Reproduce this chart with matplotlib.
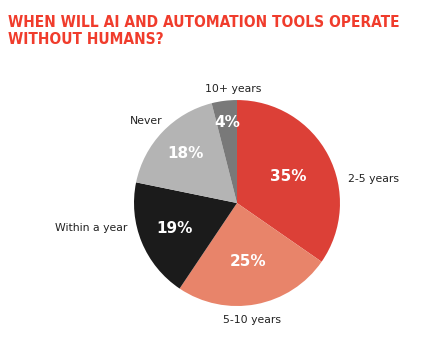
import math
import matplotlib
matplotlib.use("Agg")
from matplotlib import pyplot as plt

# survey answers, clockwise from 12 o'clock
labels = ['2-5 years', '5-10 years', 'Within a year', 'Never', '10+ years']
shares = [35, 25, 19, 18, 4]
colors = ['#DC4037', '#E8846A', '#1B1B1B', '#B4B4B4', '#797979']
title_lines = ['WHEN WILL AI AND AUTOMATION TOOLS OPERATE', 'WITHOUT HUMANS?']

# where the outside labels sit (in units of the pie radius)
label_xy = [(1.08, 0.23), (0.15, -1.14), (-1.06, -0.24), (-0.72, 0.80), (-0.04, 1.11)]
label_ha = ['left', 'center', 'right', 'right', 'center']
pct_dist = [0.56, 0.58, 0.66, 0.69, 0.79]

fig = plt.figure(figsize=(4.35, 3.45), dpi=100)
renderer = fig.canvas.get_renderer()

# title: condensed bold if we have it, shrunk to the width of the original
t1 = fig.text(0.018, 1 - 27 / 345, title_lines[0], color='#F03C2C', fontsize=12,
              fontweight='bold', fontstretch='condensed', va='baseline', ha='left',
              family=['DejaVu Sans Condensed', 'DejaVu Sans'])
w = t1.get_window_extent(renderer).width
size = 12 * 392 / w
t1.set_fontsize(size)
fig.text(0.018, 1 - 44 / 345, title_lines[1], color='#F03C2C', fontsize=size,
         fontweight='bold', fontstretch='condensed', va='baseline', ha='left',
         family=['DejaVu Sans Condensed', 'DejaVu Sans'])

ax = fig.add_axes([0.308, 0.113, 0.4736, 0.597])
total = sum(shares)
wedges, texts, autotexts = ax.pie(shares, colors=colors, startangle=90, counterclock=False,
                                  autopct=lambda p: '%d%%' % round(p * total / 100),
                                  textprops=dict(color='white', fontsize=11, fontweight='heavy'))
for t, d, wd in zip(autotexts, pct_dist, wedges):
    ang = math.radians((wd.theta1 + wd.theta2) / 2)
    t.set_position((d * math.cos(ang), d * math.sin(ang)))

for name, (x, y), ha in zip(labels, label_xy, label_ha):
    ax.text(x, y, name, ha=ha, va='center', fontsize=7.8, color='#222222')

ax.set_xlim(-1, 1)
ax.set_ylim(-1, 1)
ax.set_aspect('equal')
ax.axis('off')

plt.savefig('out.png', dpi=100)
